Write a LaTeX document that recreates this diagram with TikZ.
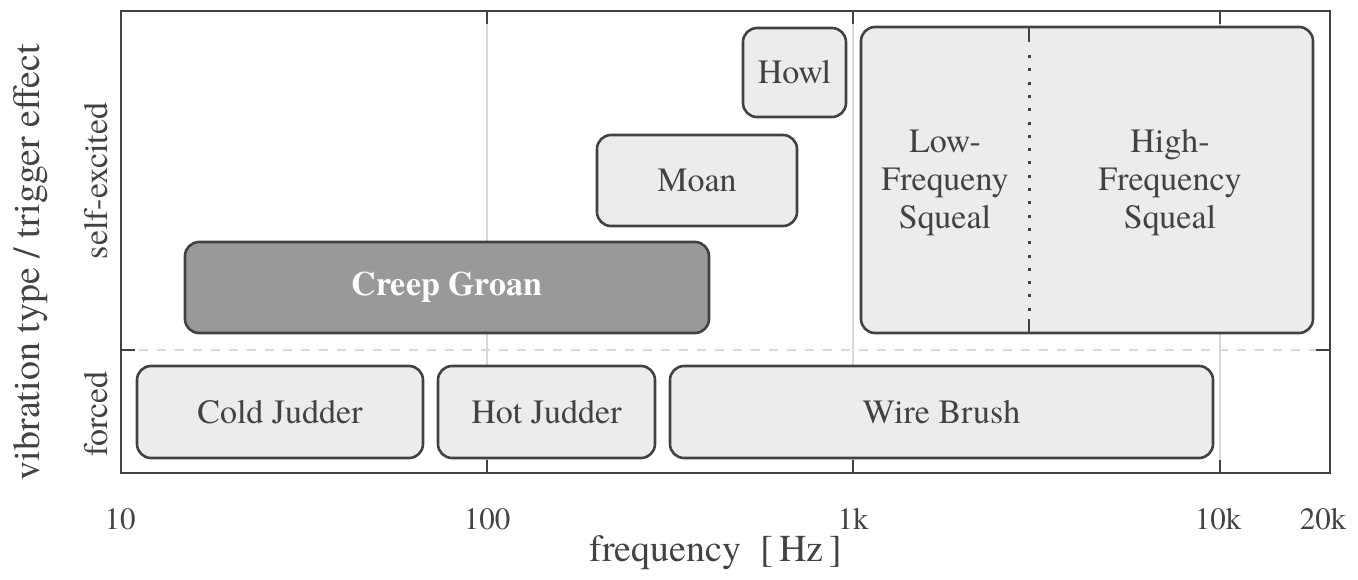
\documentclass[tikz,border=0pt]{standalone}
\usepackage{fontspec}
\setmainfont{texgyretermes}[Extension=.otf,UprightFont=*-regular,BoldFont=*-bold,ItalicFont=*-italic,BoldItalicFont=*-bolditalic]
\definecolor{ink}{HTML}{424242}
\definecolor{boxfill}{HTML}{ECECEC}
\definecolor{darkfill}{HTML}{999999}
\definecolor{gridc}{HTML}{D8D8D8}
\begin{document}
\begin{tikzpicture}[x=1pt,y=-1pt,
  every node/.style={text=ink,font=\fontsize{34}{38}\selectfont},
  box/.style={draw=ink,line width=2.6pt,fill=boxfill,rounded corners=14pt,inner sep=0pt},
  darkbox/.style={box,fill=darkfill},
  frame/.style={draw=ink,line width=2.6pt},
  tickmark/.style={draw=ink,line width=2.6pt},
  gridline/.style={draw=gridc,line width=1.3pt},
  lbl/.style={inner sep=0pt},
  ticklbl/.style={lbl,font=\fontsize{31}{38}\selectfont},
  axislbl/.style={lbl,font=\fontsize{38}{44}\selectfont}]
\useasboundingbox (0,0) rectangle (1358,579);
% grid
\draw[gridline] (487,11) -- (487,473);
\draw[gridline] (853,11) -- (853,473);
\draw[gridline] (1220,11) -- (1220,473);
\draw[gridline,dash pattern=on 9pt off 9pt] (121,350) -- (1330,350);
% frame
\draw[frame] (121,11) rectangle (1330,473);
\draw[tickmark] (487,11) -- (487,24);
\draw[tickmark] (853,11) -- (853,24);
\draw[tickmark] (1220,11) -- (1220,24);
\draw[tickmark] (487,473) -- (487,460);
\draw[tickmark] (853,473) -- (853,460);
\draw[tickmark] (1220,473) -- (1220,460);
\draw[tickmark] (121,350) -- (135,350);
\draw[tickmark] (1330,350) -- (1316,350);
% boxes
\node[box,minimum width=103pt,minimum height=89pt] (howl) at (794.5,72.5) {Howl};
\node[box,minimum width=200pt,minimum height=91pt] (moan) at (697,180.5) {Moan};
\node[darkbox,minimum width=524pt,minimum height=91pt,text=white,font=\fontsize{34}{38}\selectfont\bfseries] (creep) at (447,287.5) {Creep Groan};
\node[box,minimum width=452pt,minimum height=306pt] (squeal) at (1087,180) {};
\node[box,minimum width=286pt,minimum height=92pt] (cold) at (280,412) {Cold Judder};
\node[box,minimum width=217pt,minimum height=92pt] (hot) at (546.5,412) {Hot Judder};
\node[box,minimum width=543pt,minimum height=92pt] (wire) at (941.5,412) {Wire Brush};
% squeal divider
\coordinate (dtop) at (1029,28);
\coordinate (dbot) at (1029,333);
\draw[ink,line width=2.6pt] (dtop) -- ++(0,14);
\draw[ink,line width=2.6pt] (dbot) -- ++(0,-14);
\draw[ink,line width=3pt,dash pattern=on 3pt off 10.3pt] (1029,55) -- (1029,320);
\node[lbl,align=center] (low) at (945,183) {Low-\\Frequeny\\Squeal};
\node[lbl,align=center] (high) at (1170,183) {High-\\Frequency\\Squeal};
% axis labels
\node[ticklbl] (t10) at (120,519) {10};
\node[ticklbl] (t100) at (487,519) {100};
\node[ticklbl] (t1k) at (853,519) {1k};
\node[ticklbl] (t10k) at (1218,519) {10k};
\node[ticklbl] (t20k) at (1323,519) {20k};
\node[axislbl] (xlab) at (716,553) {frequency\ \ [\,Hz\,]};
\node[axislbl,rotate=90] (ylab) at (31,262) {vibration type / trigger effect};
\node[lbl,rotate=90] (selfex) at (96,181) {self-excited};
\node[lbl,rotate=90] (forced) at (96,414) {forced};
\end{tikzpicture}
\end{document}
